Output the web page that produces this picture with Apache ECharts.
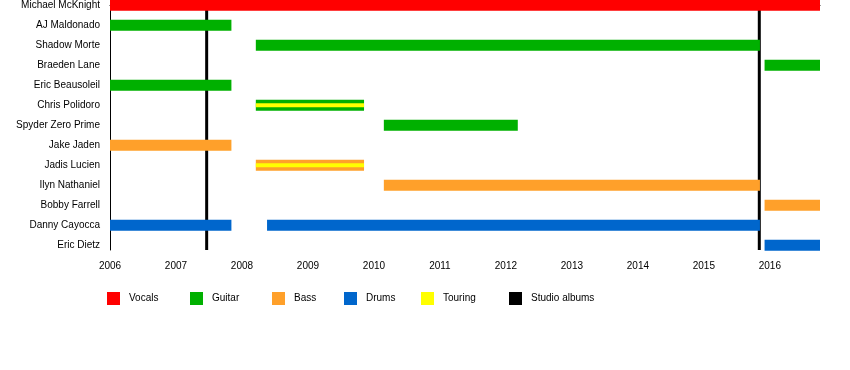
<!DOCTYPE html>
<html>
<head>
<meta charset="utf-8">
<script src="https://cdn.jsdelivr.net/npm/echarts@6/dist/echarts.min.js"></script>
<style>html,body{margin:0;padding:0;background:#fff}#c{width:850px;height:370px}</style>
</head>
<body>
<div id="c"></div>
<script>
const members = ['Michael McKnight','AJ Maldonado','Shadow Morte','Braeden Lane','Eric Beausoleil','Chris Polidoro','Spyder Zero Prime','Jake Jaden','Jadis Lucien','Ilyn Nathaniel','Bobby Farrell','Danny Cayocca','Eric Dietz'];
const yearTicks = [2006,2007,2008,2009,2010,2011,2012,2013,2014,2015,2016];
const xMin = 2006, xMax = 2016.76;
// [memberIndex, start, end]
const vocals = [[0, 2006, 2016.76]];
const guitar = [[1, 2006, 2007.84],[2, 2008.21, 2015.85],[3, 2015.92, 2016.76],[4, 2006, 2007.84],[5, 2008.21, 2009.85],[6, 2010.15, 2012.18]];
const bass = [[7, 2006, 2007.84],[8, 2008.21, 2009.85],[9, 2010.15, 2015.85],[10, 2015.92, 2016.76]];
const drums = [[11, 2006, 2007.84],[11, 2008.38, 2015.85],[12, 2015.92, 2016.76]];
const touring = [[5, 2008.21, 2009.85],[8, 2008.21, 2009.85]];
const albums = [2007.465, 2015.84];

const COLORS = {Vocals:'#ff0000', Guitar:'#00b000', Bass:'#ffa02a', Drums:'#0066cc', Touring:'#ffff00', 'Studio albums':'#000000'};
const FONT = "'Liberation Sans', Arial, Helvetica, sans-serif";

function barRender(h) {
  return function (params, api) {
    const s = api.coord([api.value(1), api.value(0)]);
    const e = api.coord([api.value(2), api.value(0)]);
    return {type:'rect', shape:{x:s[0], y:s[1]-h/2+0.3, width:e[0]-s[0], height:h}, style:{fill: api.visual('color')}};
  };
}
function barSeries(name, data, h) {
  return {name, type:'custom', renderItem: barRender(h), data, encode:{x:[1,2], y:0}, itemStyle:{color:COLORS[name]}, silent:true, z:3};
}
const albumSeries = {
  name:'Studio albums', type:'custom', z:2, silent:true,
  itemStyle:{color:'#000'},
  data: albums.map(a => [a]),
  encode:{x:0},
  renderItem: function (params, api) {
    const t = api.coord([api.value(0), -0.25]);
    const b = api.coord([api.value(0), 12.25]);
    return {type:'rect', shape:{x:t[0]-1.5, y:t[1], width:3, height:b[1]-t[1]}, style:{fill:'#000'}};
  }
};

const legendNames = ['Vocals','Guitar','Bass','Drums','Touring','Studio albums'];
const legendLefts = [107,190,272,344,421,509];
const legends = legendNames.map((n,i) => ({
  data:[n], left: legendLefts[i], top: 292, padding:0, itemWidth:13, itemHeight:13, icon:'rect',
  textStyle:{fontSize:10, color:'#000', fontFamily:FONT, padding:[5,0,0,4]}, selectedMode:false
}));

const chart = echarts.init(document.getElementById('c'), null, {renderer:'canvas'});
chart.setOption({
  animation:false,
  backgroundColor:'#fff',
  grid:{left:110, right:30, top:0, height:250},
  legend: legends,
  xAxis:{
    type:'value', min:xMin, max:xMax,
    axisLine:{show:true, lineStyle:{color:'#000', width:1}},
    axisTick:{show:true, length:5, inside:false, lineStyle:{color:'#000'}, customValues: yearTicks},
    axisLabel:{customValues: yearTicks, formatter: v => String(Math.round(v)), fontSize:10, color:'#000', fontFamily:FONT, margin:11},
    splitLine:{show:false}
  },
  yAxis:{
    type:'value', inverse:true, min:-0.25, max:12.25,
    axisLine:{show:true, lineStyle:{color:'#000', width:1}},
    axisTick:{show:false},
    axisLabel:{customValues: members.map((m,i)=>i), formatter: v => members[Math.round(v)], fontSize:10, color:'#000', fontFamily:FONT, margin:10, padding:[3,0,0,0]},
    splitLine:{show:false}
  },
  series:[
    albumSeries,
    barSeries('Vocals', vocals, 11),
    barSeries('Guitar', guitar, 11),
    barSeries('Bass', bass, 11),
    barSeries('Drums', drums, 11),
    Object.assign(barSeries('Touring', touring, 4), {z:4})
  ]
});
</script>
</body>
</html>
